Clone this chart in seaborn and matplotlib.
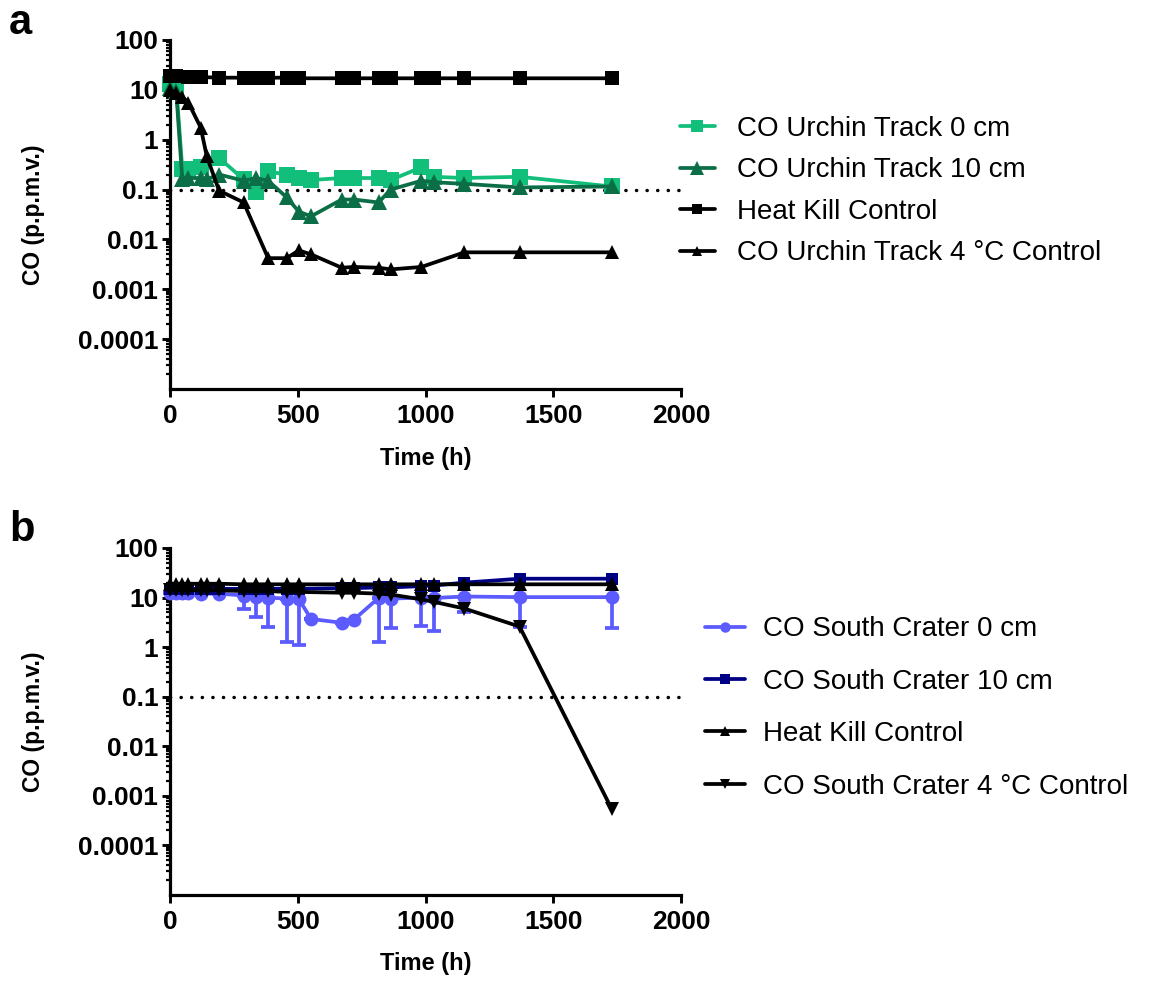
import matplotlib
matplotlib.use('Agg')
import matplotlib.pyplot as plt
import numpy as np
import pandas as pd
import seaborn as sns
from matplotlib.ticker import LogLocator, NullFormatter

sns.set_style('ticks')
plt.rcParams['font.family'] = ['Liberation Sans', 'DejaVu Sans']
for key in ['text.color', 'axes.labelcolor', 'xtick.color', 'ytick.color', 'axes.edgecolor']:
    plt.rcParams[key] = 'black'

# ---- panel a: Urchin Track ----
t_uc0 = [0, 24, 48, 72, 120, 192, 288, 336, 384, 456, 504, 552, 672, 720, 816, 864, 984, 1032, 1152, 1368, 1728]
uc0 = [13, 12, 0.26, 0.26, 0.28, 0.43, 0.16, 0.09, 0.23, 0.2, 0.17, 0.155, 0.17, 0.17, 0.17, 0.155, 0.28, 0.18, 0.17, 0.18, 0.115]

t_uc10 = [0, 24, 48, 72, 120, 144, 192, 288, 336, 384, 456, 504, 552, 672, 720, 816, 864, 984, 1032, 1152, 1368, 1728]
uc10 = [11, 9.5, 0.16, 0.17, 0.17, 0.16, 0.2, 0.15, 0.17, 0.15, 0.07, 0.036, 0.029, 0.063, 0.063, 0.055, 0.1, 0.15, 0.14, 0.13, 0.11, 0.115]

t_hk_a = [0, 24, 72, 120, 192, 288, 336, 384, 456, 504, 672, 720, 816, 864, 984, 1032, 1152, 1368, 1728]
hk_a = [19, 18.5, 18, 18, 17.5, 17.5, 17.5, 17.5, 17.5, 17, 17, 17, 17, 17, 17, 17, 17, 17, 17]

t_cold_a = [0, 24, 48, 72, 120, 144, 192, 288, 384, 456, 504, 552, 672, 720, 816, 864, 984, 1152, 1368, 1728]
cold_a = [10, 8.7, 7.2, 5.5, 1.75, 0.46, 0.095, 0.055, 0.0042, 0.0042, 0.006, 0.005, 0.0027, 0.0028,
          0.0027, 0.0025, 0.0028, 0.0055, 0.0055, 0.0055]

# ---- panel b: South Crater ----
t_sc0 = [0, 24, 48, 72, 120, 192, 288, 336, 384, 456, 504, 552, 672, 720, 816, 864, 984, 1032, 1152, 1368, 1728]
sc0 = [12.5, 12.5, 12.5, 12.5, 12, 12, 11, 10.2, 10, 9.5, 9.3, 3.7, 3.1, 3.6, 9.8, 9.5, 10, 9.8, 10.5, 10.2, 10.2]
sc0_low = [12.3, 12.3, 12.3, 12.3, 11.8, 11.8, 6, 4, 2.5, 1.25, 1.1, 3.7, 3.1, 3.6, 1.25, 2.4, 2.7, 2.1, 5.1, 2.5, 2.4]

t_ctrl_b = [0, 24, 48, 72, 120, 144, 192, 288, 336, 384, 456, 504, 672, 720, 816, 864, 984, 1032, 1152, 1368, 1728]
sc10 = [15, 15, 15, 15, 15, 15, 15, 15, 15, 15, 15, 15, 15.5, 15.5, 16, 16, 17, 17.5, 20, 24, 24]
hk_b = [19, 19, 19, 19, 19, 19, 19, 18.5, 18.5, 18.5, 18.5, 18.5, 18.5, 18.5, 18.5, 18.5, 18.5, 18.5, 18.5, 18.5, 18.5]
cold_b = [14, 14, 14, 14, 14, 14, 14, 13.5, 13.5, 13.5, 13, 13, 12.5, 12.5, 12, 11.5, 9.2, 8.2, 6.0, 2.6, 0.00055]

ytick_vals = [1e-4, 1e-3, 1e-2, 1e-1, 1, 10, 100]
ytick_labels = ['0.0001', '0.001', '0.01', '0.1', '1', '10', '100']
xtick_vals = [0, 500, 1000, 1500, 2000]

LIGHT_GREEN = '#12bf7a'
DARK_GREEN = '#0b6e46'
BLUE = '#5b5bff'
NAVY = '#000085'
LW = 2.7


def draw_series(ax, t, v, label, color, marker, ms, z):
    df = pd.DataFrame({'t': t, 'v': v})
    sns.lineplot(data=df, x='t', y='v', ax=ax, color=color, marker=marker,
                 markersize=ms, markeredgewidth=0, linewidth=LW, label=label,
                 zorder=z, clip_on=False)


def style_axes(ax):
    ax.set_yscale('log')
    ax.set_xlim(0, 2000)
    ax.set_ylim(1e-5, 100)
    ax.set_yticks(ytick_vals, ytick_labels, fontsize=19, fontweight='bold')
    ax.yaxis.set_minor_locator(LogLocator(base=10, subs=np.arange(2, 10), numticks=100))
    ax.yaxis.set_minor_formatter(NullFormatter())
    ax.set_xticks(xtick_vals, [str(x) for x in xtick_vals], fontsize=19, fontweight='bold')
    ax.tick_params(axis='both', which='major', direction='out', length=5.5, width=2.1, color='black', pad=3)
    ax.tick_params(axis='x', which='major', pad=5)
    ax.tick_params(axis='y', which='minor', direction='out', length=3.2, width=1.6, color='black')
    for s in ['top', 'right']:
        ax.spines[s].set_visible(False)
    for s in ['left', 'bottom']:
        ax.spines[s].set_linewidth(2.3)
        ax.spines[s].set_color('black')
    ax.set_xlabel('Time (h)', fontsize=17, fontweight='bold')
    ax.set_ylabel('CO (p.p.m.v.)', fontsize=16.5, fontweight='bold')
    ax.xaxis.set_label_coords(0.5, -0.165)
    ax.yaxis.set_label_coords(-0.245, 0.5)
    ax.axhline(0.1, color='black', lw=2.5, linestyle=(0, (0.05, 3.0)),
               dash_capstyle='round', zorder=0.5)


fig = plt.figure(figsize=(11.52, 9.81), dpi=100)
ax_a = fig.add_axes([0.1476, 0.6035, 0.4436, 0.3558])
ax_b = fig.add_axes([0.1476, 0.0877, 0.4436, 0.3537])

# panel a
draw_series(ax_a, t_uc0, uc0, 'CO Urchin Track 0 cm', LIGHT_GREEN, 's', 11.5, 3)
draw_series(ax_a, t_uc10, uc10, 'CO Urchin Track 10 cm', DARK_GREEN, '^', 12, 4)
draw_series(ax_a, t_hk_a, hk_a, 'Heat Kill Control', 'black', 's', 9.5, 5)
draw_series(ax_a, t_cold_a, cold_a, 'CO Urchin Track 4 \u00b0C Control', 'black', '^', 9.5, 6)
style_axes(ax_a)
ax_a.legend(loc='center left', bbox_to_anchor=(0.5903, 0.8053), bbox_transform=fig.transFigure,
            frameon=False, fontsize=20, borderpad=0, borderaxespad=0, handlelength=1.25,
            handletextpad=0.8, labelspacing=0.56, markerscale=0.8)

# panel b
sc0_arr = np.array(sc0)
yerr = [sc0_arr - np.array(sc0_low), np.zeros(len(sc0))]
ax_b.errorbar(t_sc0, sc0, yerr=yerr, fmt='none', ecolor=BLUE, elinewidth=LW,
              capsize=5, capthick=LW, zorder=2, clip_on=False)
draw_series(ax_b, t_sc0, sc0, 'CO South Crater 0 cm', BLUE, 'o', 10, 3)
draw_series(ax_b, t_ctrl_b, sc10, 'CO South Crater 10 cm', NAVY, 's', 9, 4)
draw_series(ax_b, t_ctrl_b, hk_b, 'Heat Kill Control', 'black', '^', 9.5, 5)
draw_series(ax_b, t_ctrl_b, cold_b, 'CO South Crater 4 \u00b0C Control', 'black', 'v', 9.5, 6)
style_axes(ax_b)
ax_b.legend(loc='center left', bbox_to_anchor=(0.612, 0.2783), bbox_transform=fig.transFigure,
            frameon=False, fontsize=20, borderpad=0, borderaxespad=0, handlelength=1.43,
            handletextpad=0.65, labelspacing=0.95, markerscale=0.75)

fig.text(0.008, 0.997, 'a', fontsize=30, fontweight='bold', va='top', ha='left')
fig.text(0.008, 0.48, 'b', fontsize=30, fontweight='bold', va='top', ha='left')

fig.savefig('out.png', dpi=100)
